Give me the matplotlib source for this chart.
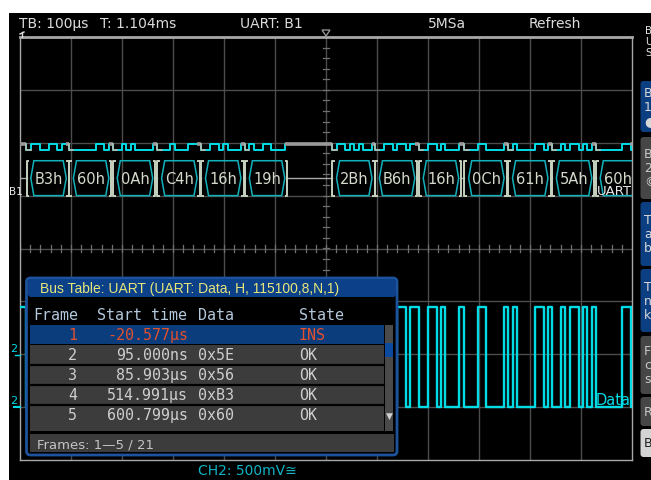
import matplotlib
matplotlib.use("Agg")
import matplotlib.pyplot as plt
from matplotlib.patches import Rectangle, FancyBboxPatch, Polygon
import numpy as np

W, H = 651, 481

# ---------------- data ----------------
frame_labels = ["B3h", "60h", "0Ah", "C4h", "16h", "19h",
                "2Bh", "B6h", "16h", "0Ch", "61h", "5Ah", "60h"]
frame_bytes = [0xB3, 0x60, 0x0A, 0xC4, 0x16, 0x19,
               0x2B, 0xB6, 0x16, 0x0C, 0x61, 0x5A, 0x60]
frame_start_us = [12.5, 96, 182, 269, 355, 441,
                  612, 696, 782, 871, 957, 1043, 1129]
bit_us = 8.688
time_per_div_us = 100
n_hdiv = 12
n_vdiv = 8

ch2_high_div = -1.10
ch2_low_div = -3.0
bus_hi_div = 1.98
bus_lo_div = 1.87
box_top_div = 1.66
box_bot_div = 1.00

top_labels = ["TB: 100\u00b5s", "T: 1.104ms", "UART: B1", "5MSa", "Refresh"]
top_label_x = [19, 100, 240, 428, 529]

table_title = "Bus Table: UART (UART: Data, H, 115100,8,N,1)"
table_headers = ["Frame", "Start time", "Data", "State"]
table_frames = ["1", "2", "3", "4", "5"]
table_start = ["-20.577\u00b5s", "95.000ns", "85.903\u00b5s", "514.991\u00b5s", "600.799\u00b5s"]
table_data = ["", "0x5E", "0x56", "0xB3", "0x60"]
table_state = ["INS", "OK", "OK", "OK", "OK"]
table_footer = "Frames: 1\u20145 / 21"
ch2_label = "CH2: 500mV\u2245"

side_letters = ["B", "U", "S"]
side_boxes = [  # (y0, y1, colour, letters, text colour)
    (82, 133, "#0c3f82", ["B", "1", "\u25cf"], "#d8d8d8"),
    (138, 200, "#464646", ["B", "2", "\u00a9"], "#c8c8c8"),
    (203, 267, "#0c3f82", ["T", "a", "b"], "#d8d8d8"),
    (270, 333, "#0c3f82", ["T", "n", "k"], "#d8d8d8"),
    (337, 395, "#464646", ["F", "c", "s"], "#c8c8c8"),
    (398, 427, "#464646", ["R"], "#c8c8c8"),
    (430, 458, "#d4d4d4", ["B"], "#202020"),
]

# ---------------- colours ----------------
CYAN = "#00dce6"
TEAL = "#12b2bc"
GRID = "#4c4c4c"
BORDER = "#a8a8a8"
TXT = "#dcdcdc"

fig = plt.figure(figsize=(W / 100, H / 100), dpi=100, facecolor="white")

# background axes (pixel coords)
ax_bg = fig.add_axes([0, 0, 1, 1], zorder=0)
ax_bg.set_xlim(0, W); ax_bg.set_ylim(H, 0); ax_bg.axis("off")
ax_bg.add_patch(Rectangle((9, 14), W - 9, H - 14, facecolor="black", edgecolor="none"))

# ---------------- scope axes ----------------
gx0, gx1, gy0, gy1 = 20, 632, 38, 461
ax = fig.add_axes([gx0 / W, 1 - gy1 / H, (gx1 - gx0) / W, (gy1 - gy0) / H], zorder=1)
ax.set_facecolor("none")
tmax = n_hdiv * time_per_div_us
ax.set_xlim(0, tmax)
ax.set_ylim(-n_vdiv / 2, n_vdiv / 2)
ax.set_xticks([]); ax.set_yticks([])
for sp in ax.spines.values():
    sp.set_color(BORDER); sp.set_linewidth(1.0)
ax.spines["top"].set_linewidth(2.0)

for i in range(1, n_hdiv):
    ax.axvline(i * time_per_div_us, color=GRID, lw=1.0, zorder=1)
for j in range(1, n_vdiv):
    ax.axhline(j - n_vdiv / 2, color=GRID, lw=1.0, zorder=1)
# centre ticks
for x in np.arange(0, tmax, time_per_div_us / 5):
    ax.plot([x, x], [-0.06, 0.06], color="#707070", lw=0.9, zorder=1)
for y in np.arange(-n_vdiv / 2, n_vdiv / 2, 0.2):
    ax.plot([tmax / 2 - 6, tmax / 2 + 6], [y, y], color="#707070", lw=0.9, zorder=1)

# build UART waveform
def uart_bits(b):
    return [0] + [(b >> i) & 1 for i in range(8)] + [1]

t = [0.0]; lv = [1]
for s, b in zip(frame_start_us, frame_bytes):
    for k, v in enumerate(uart_bits(b)):
        t.append(s + k * bit_us); lv.append(v)
t.append(tmax); lv.append(1)
t = np.array(t); lv = np.array(lv)

# CH2 analog trace
ch2 = np.where(lv == 1, ch2_high_div, ch2_low_div)
ax.step(t, ch2, where="post", color=CYAN, lw=1.7, zorder=3)

# bus digital trace
bus = np.where(lv == 1, bus_hi_div, bus_lo_div)
ax.step(t, bus, where="post", color=CYAN, lw=1.4, zorder=3)
# idle / framing segments in grey
prev_end = 0.0
for s in frame_start_us:
    ax.plot([prev_end, s], [bus_hi_div, bus_hi_div], color="#9a9a9a", lw=2.6,
            solid_capstyle="butt", zorder=4)
    ax.plot([s, s, s + bit_us], [bus_hi_div, bus_lo_div, bus_lo_div], color="#b8bcb0",
            lw=1.2, zorder=4)
    prev_end = s + 9 * bit_us
ax.plot([prev_end, tmax], [bus_hi_div, bus_hi_div], color="#9a9a9a", lw=2.6, zorder=4)

# bus decode boxes
mid = (box_top_div + box_bot_div) / 2
slant = 6.0
prev_close = 0.0
for s, lab in zip(frame_start_us, frame_labels):
    a = s + bit_us
    b = s + 9 * bit_us
    hexa = Polygon([(a, mid), (a + slant, box_top_div), (b - slant, box_top_div),
                    (b, mid), (b - slant, box_bot_div), (a + slant, box_bot_div)],
                   closed=True, fill=False, edgecolor=TEAL, lw=1.1, zorder=4)
    ax.add_patch(hexa)
    ax.text((a + b) / 2, mid, lab, color="#d4dacb", fontsize=10.5,
            ha="center", va="center", zorder=5, clip_on=True)
    o = s + 0.5
    c = s + 9.6 * bit_us
    ax.plot([o + 3.5, o, o, o + 3.5], [box_top_div, box_top_div, box_bot_div, box_bot_div],
            color="#c8d2c0", lw=1.4, zorder=5)
    ax.plot([c - 3.5, c, c, c - 3.5], [box_top_div, box_top_div, box_bot_div, box_bot_div],
            color="#c8d2c0", lw=1.4, zorder=5)
    ax.plot([prev_close, o], [mid, mid], color="#a8a8a8", lw=1.0, zorder=4)
    prev_close = c
ax.plot([prev_close, tmax], [mid, mid], color="#a8a8a8", lw=1.0, zorder=4)

# ---------------- overlay (pixel coords) ----------------
ov = fig.add_axes([0, 0, 1, 1], zorder=3)
ov.set_xlim(0, W); ov.set_ylim(H, 0); ov.axis("off")
ov.patch.set_alpha(0)

for lab, x in zip(top_labels, top_label_x):
    ov.text(x, 24, lab, color=TXT, fontsize=10, ha="left", va="center")

# trigger marker
ov.add_patch(Polygon([(322, 31), (330, 31), (326, 37)], closed=True, fill=False,
                     edgecolor="#a0a0a0", lw=0.9))
ov.plot([22, 22], [33, 38], color="#e0e0e0", lw=1)
ov.plot([20, 24], [35, 33], color="#e0e0e0", lw=1)

# labels near traces
ov.text(9, 192, "B1", color="#e8e8e8", fontsize=7.5, ha="left", va="center")
ov.text(597, 192, "UART", color="#e8e8e8", fontsize=9.5, ha="left", va="center")
ov.text(596, 401, "Data", color=CYAN, fontsize=10.5, ha="left", va="center")
ov.text(10, 349, "2", color=CYAN, fontsize=8, ha="left", va="center")
ov.plot([15, 20], [356, 356], color=CYAN, lw=1)
ov.text(10, 401, "2", color=CYAN, fontsize=8, ha="left", va="center")
ov.plot([14, 20], [408, 408], color=CYAN, lw=1.5)
ov.text(198, 471, ch2_label, color="#10b4c4", fontsize=10, ha="left", va="center")

# ---------------- bus table ----------------
ov.add_patch(FancyBboxPatch((26.5, 279), 370.5, 177, boxstyle="round,pad=0,rounding_size=4",
                            facecolor="black", edgecolor="#1d539c", lw=2.0))
ov.add_patch(FancyBboxPatch((28, 280), 368, 18, boxstyle="round,pad=0,rounding_size=3",
                            facecolor="#0c4088", edgecolor="none"))
ov.text(40, 289.5, table_title, color="#e6e67a", fontsize=10, ha="left", va="center",
        family="Liberation Sans")

MONO = "DejaVu Sans Mono"
hdr_x = [33, 97, 198, 299]
for h, x in zip(table_headers, hdr_x):
    ov.text(x, 316, h, color="#b4c8dc", fontsize=10.8, family=MONO, ha="left", va="center")

row_h = 20
row_y0 = 326
ov.add_patch(Rectangle((30, row_y0), 354, 19, facecolor="#0b3c7c", edgecolor="none"))
ov.add_patch(Rectangle((30, row_y0 + 20), 354, 86, facecolor="#3c3c3c", edgecolor="none"))
for k in range(1, 4):
    ov.plot([30, 384], [row_y0 + 20 + k * row_h, row_y0 + 20 + k * row_h], color="black", lw=1.6)
# scrollbar
ov.add_patch(Rectangle((385, row_y0), 8, 106, facecolor="#4a4a4a", edgecolor="none"))
ov.add_patch(Rectangle((385, 344), 8, 14, facecolor="#0c4aa0", edgecolor="none"))
ov.text(389, 416, "\u25bc", color="#d0d0d0", fontsize=6.5, ha="center", va="center")

for i in range(len(table_frames)):
    yc = row_y0 + 10 + i * row_h
    col = "#e2502e" if table_state[i] != "OK" else "#cfcfcf"
    ov.text(77, yc, table_frames[i], color=col, fontsize=10.8, family=MONO, ha="right", va="center")
    ov.text(188, yc, table_start[i], color=col, fontsize=10.8, family=MONO, ha="right", va="center")
    ov.text(198, yc, table_data[i], color=col, fontsize=10.8, family=MONO, ha="left", va="center")
    ov.text(299, yc, table_state[i], color=col, fontsize=10.8, family=MONO, ha="left", va="center")

ov.add_patch(Rectangle((30, 435), 364, 18, facecolor="#3c3c3c", edgecolor="none"))
ov.text(37, 445, table_footer, color="#c4c4c4", fontsize=9.5, ha="left", va="center")

# ---------------- right side panel ----------------
for k, ch in enumerate(side_letters):
    ov.text(645, 31 + k * 11, ch, color="#e0e0e0", fontsize=7.5, ha="left", va="center")
for y0, y1, fc, letters, tc in side_boxes:
    ov.add_patch(FancyBboxPatch((640.5, y0), 30, y1 - y0, boxstyle="round,pad=0,rounding_size=3",
                                facecolor=fc, edgecolor="none"))
    n = len(letters)
    for k, ch in enumerate(letters):
        yy = (y0 + y1) / 2 + (k - (n - 1) / 2) * 14
        ov.text(644, yy, ch, color=tc, fontsize=9, ha="left", va="center")

fig.savefig("out.png", dpi=100, facecolor="white")
